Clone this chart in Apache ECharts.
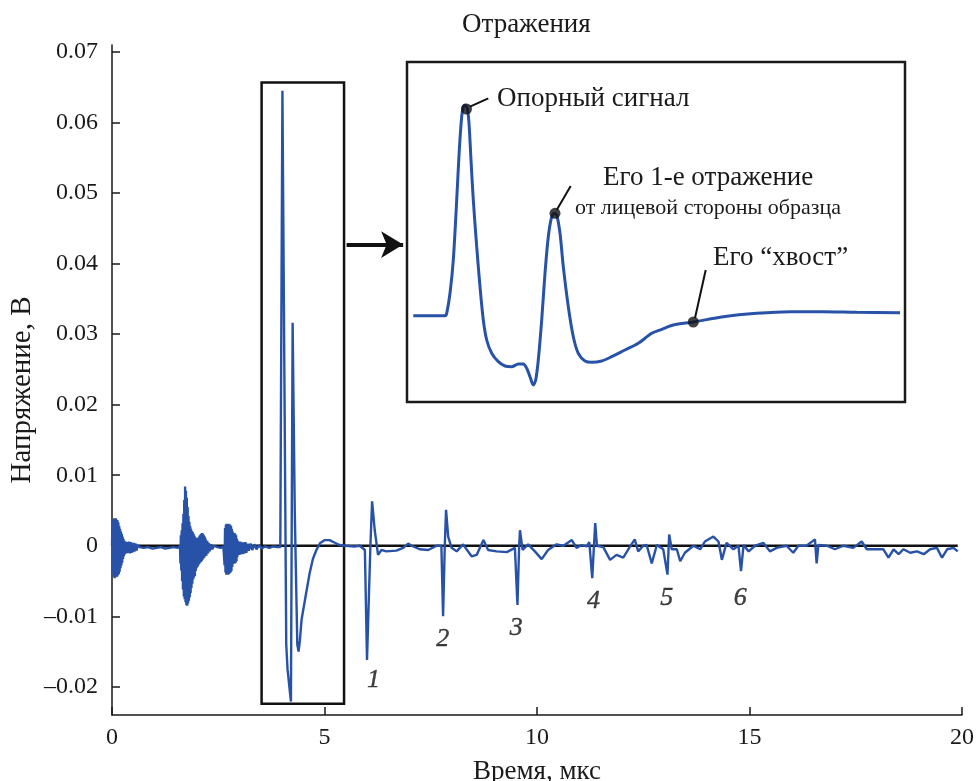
<!DOCTYPE html>
<html><head><meta charset="utf-8">
<script src="https://cdn.jsdelivr.net/npm/echarts@6/dist/echarts.min.js"></script>
<style>html,body{margin:0;padding:0;background:#fff}#c{width:977px;height:781px}</style>
</head><body><div id="c"></div>
<script>
// ---- data (time in µs, voltage in V) ----
const noiseBurst1 = [[0.00,0.0000],[0.01,0.0030],[0.02,-0.0038],[0.03,0.0036],[0.04,-0.0044],[0.05,0.0039],[0.06,-0.0046],[0.07,0.0038],[0.08,-0.0045],[0.09,0.0039],[0.10,-0.0043],[0.11,0.0037],[0.12,-0.0044],[0.13,0.0036],[0.14,-0.0042],[0.15,0.0033],[0.16,-0.0040],[0.17,0.0028],[0.18,-0.0037],[0.19,0.0024],[0.20,-0.0032],[0.21,0.0020],[0.22,-0.0028],[0.23,0.0017],[0.24,-0.0024],[0.25,0.0013],[0.26,-0.0019],[0.27,0.0010],[0.28,-0.0015],[0.29,0.0007],[0.30,-0.0012],[0.32,0.0006],[0.34,-0.0011],[0.36,0.0005],[0.38,-0.0010],[0.40,0.0006],[0.42,-0.0011],[0.44,0.0005],[0.46,-0.0010],[0.48,0.0004],[0.50,-0.0009],[0.52,0.0004],[0.54,-0.0008],[0.56,0.0003],[0.58,-0.0007],[0.60,0.0001]];
const quietGap = [[0.65,-0.0002],[0.75,-0.0003],[0.85,-0.0002],[0.95,-0.0004],[1.05,-0.0003],[1.15,-0.0002],[1.25,-0.0004],[1.35,-0.0003],[1.45,-0.0002],[1.55,-0.0003]];
const noiseBurst2 = [[1.60,0.0000],[1.61,-0.0025],[1.62,0.0015],[1.63,-0.0035],[1.64,0.0022],[1.65,-0.0050],[1.66,0.0032],[1.67,-0.0062],[1.68,0.0045],[1.69,-0.0072],[1.70,0.0065],[1.71,-0.0076],[1.72,0.0084],[1.73,-0.0080],[1.74,0.0078],[1.75,-0.0084],[1.76,0.0068],[1.77,-0.0085],[1.78,0.0055],[1.79,-0.0082],[1.80,0.0042],[1.81,-0.0078],[1.82,0.0034],[1.83,-0.0073],[1.84,0.0028],[1.85,-0.0067],[1.86,0.0024],[1.87,-0.0060],[1.88,0.0021],[1.89,-0.0054],[1.90,0.0019],[1.91,-0.0048],[1.92,0.0017],[1.93,-0.0045],[1.94,0.0014],[1.95,-0.0043],[1.96,0.0012],[1.97,-0.0036],[1.98,0.0011],[1.99,-0.0032],[2.00,0.0010],[2.01,-0.0030],[2.02,0.0011],[2.03,-0.0028],[2.04,0.0012],[2.05,-0.0026],[2.06,0.0014],[2.07,-0.0024],[2.08,0.0016],[2.09,-0.0023],[2.10,0.0017],[2.11,-0.0022],[2.12,0.0018],[2.13,-0.0020],[2.14,0.0017],[2.15,-0.0018],[2.16,0.0015],[2.17,-0.0017],[2.18,0.0013],[2.19,-0.0015],[2.20,0.0010],[2.22,-0.0014],[2.24,0.0007],[2.26,-0.0011],[2.28,0.0004],[2.30,-0.0008],[2.33,0.0002],[2.36,-0.0005],[2.40,0.0000],[2.48,-0.0002],[2.56,-0.0003],[2.62,-0.0001]];
const noiseBurst3 = [[2.64,0.0000],[2.65,-0.0028],[2.66,0.0025],[2.67,-0.0038],[2.68,0.0030],[2.69,-0.0041],[2.70,0.0031],[2.71,-0.0040],[2.72,0.0030],[2.73,-0.0041],[2.74,0.0031],[2.75,-0.0040],[2.76,0.0029],[2.77,-0.0039],[2.78,0.0030],[2.79,-0.0038],[2.80,0.0028],[2.81,-0.0036],[2.82,0.0024],[2.83,-0.0030],[2.84,0.0020],[2.85,-0.0026],[2.86,0.0018],[2.87,-0.0025],[2.88,0.0018],[2.89,-0.0025],[2.90,0.0017],[2.91,-0.0024],[2.92,0.0015],[2.93,-0.0022],[2.94,0.0010],[2.95,-0.0016],[2.96,0.0007],[2.97,-0.0013],[2.98,0.0006],[3.00,-0.0013],[3.02,0.0006],[3.04,-0.0012],[3.06,0.0005],[3.08,-0.0012],[3.10,0.0005],[3.12,-0.0011],[3.14,0.0005],[3.16,-0.0010],[3.19,0.0003],[3.22,-0.0007],[3.26,0.0003],[3.30,-0.0006],[3.35,0.0002],[3.40,-0.0005],[3.46,0.0001],[3.52,-0.0004],[3.60,-0.0001],[3.70,-0.0003],[3.80,-0.0001],[3.90,-0.0002]];
const mainPulse = [[3.96,-0.0002],[4.01,0.0645],[4.10,-0.0140],[4.13,-0.0175],[4.21,-0.0221],[4.25,0.0316],[4.30,0.0050],[4.36,-0.0140],[4.39,-0.0150],[4.42,-0.0135],[4.46,-0.0105],[4.54,-0.0077],[4.65,-0.0039],[4.73,-0.0018],[4.81,-0.0006],[4.90,0.0004],[5.01,0.0008],[5.12,0.0008],[5.22,0.0005],[5.35,0.0001],[5.50,0.0000]];
const echoTrain = [[5.70,-0.0001],[5.83,0.0000],[5.95,-0.0006],[6.00,-0.0162],[6.08,0.0000],[6.12,0.0063],[6.18,0.0023],[6.26,-0.0013],[6.34,-0.0006],[6.45,-0.0008],[6.69,-0.0007],[6.85,-0.0003],[6.97,0.0003],[7.05,0.0000],[7.24,-0.0005],[7.44,-0.0006],[7.64,0.0000],[7.75,0.0000],[7.79,-0.0100],[7.83,0.0000],[7.86,0.0051],[7.91,0.0013],[7.99,-0.0003],[8.11,-0.0008],[8.26,0.0002],[8.46,-0.0015],[8.58,-0.0013],[8.74,0.0008],[8.85,-0.0006],[9.05,-0.0008],[9.29,-0.0009],[9.48,-0.0003],[9.54,-0.0084],[9.58,0.0000],[9.60,0.0022],[9.66,-0.0006],[9.79,0.0002],[9.95,-0.0008],[10.11,-0.0019],[10.26,-0.0006],[10.46,0.0002],[10.62,0.0000],[10.82,0.0008],[10.93,-0.0003],[11.05,0.0001],[11.17,-0.0001],[11.23,0.0005],[11.30,-0.0046],[11.34,0.0000],[11.37,0.0032],[11.41,0.0000],[11.56,-0.0002],[11.72,-0.0020],[11.87,-0.0013],[12.03,-0.0017],[12.18,-0.0002],[12.30,0.0009],[12.38,-0.0008],[12.50,0.0000],[12.58,0.0001],[12.70,-0.0025],[12.82,0.0001],[12.97,-0.0005],[13.07,-0.0041],[13.11,0.0016],[13.17,-0.0005],[13.29,-0.0005],[13.37,-0.0022],[13.48,-0.0010],[13.68,0.0000],[13.84,-0.0005],[13.95,0.0006],[14.15,0.0013],[14.27,0.0006],[14.35,-0.0020],[14.46,0.0004],[14.62,-0.0005],[14.74,0.0000],[14.80,-0.0036],[14.86,0.0001],[14.98,-0.0008],[15.13,0.0000],[15.33,0.0004],[15.48,-0.0008],[15.64,-0.0003],[15.87,0.0000],[16.03,-0.0010],[16.15,0.0000],[16.34,0.0000],[16.54,0.0009],[16.58,-0.0025],[16.62,0.0001],[16.82,0.0000],[17.01,-0.0005],[17.21,0.0000],[17.44,-0.0003],[17.64,0.0006],[17.76,-0.0005],[17.92,-0.0005],[18.15,-0.0005],[18.27,-0.0017],[18.39,-0.0005],[18.51,-0.0012],[18.62,-0.0005],[18.78,-0.0010],[18.94,-0.0008],[19.10,-0.0012],[19.25,-0.0005],[19.41,-0.0003],[19.53,-0.0017],[19.65,-0.0005],[19.80,-0.0003],[19.90,-0.0008]];
const baselineTime = [0, 19.9];
const baselineVolt = [0, 0];

const xTickValues = [0, 5, 10, 15, 20];
const yTickValues = [-0.02, -0.01, 0, 0.01, 0.02, 0.03, 0.04, 0.05, 0.06, 0.07];

const echoNames = ['1', '2', '3', '4', '5', '6'];
const echoLabelTime = [6.15, 7.78, 9.51, 11.33, 13.05, 14.78];
const echoLabelVolt = [-0.0190, -0.0133, -0.0117, -0.0079, -0.0074, -0.0074];

// inset (schematic, arbitrary units)
const insetX = [6.3, 38, 39.7, 43, 46.3, 49.7, 52.3, 54.7, 56.3, 58, 60.3, 62, 64, 66.3, 69.7, 73, 76.3, 79.7, 84.7, 91.3, 98, 104.7, 111.3, 116.3, 119.7, 123, 126.3, 128.7, 131.3, 134.7, 138, 141.3, 144.7, 147.3, 149.7, 153, 156.3, 161.3, 166.3, 171.3, 178, 184.7, 194.7, 204.7, 218, 231.3, 244.7, 254.7, 266.3, 286.3, 316.3, 349.7, 383, 416.3, 449.7, 493];
const insetY = [86.3, 86.3, 88.7, 108.7, 142, 202, 252, 285.3, 295.3, 297, 293.7, 278.7, 242, 202, 155.3, 115.3, 82, 62, 48.7, 40.3, 36, 35.3, 38, 38, 33.7, 25.3, 17, 22, 42, 82, 128.7, 165.3, 185.3, 188.7, 187, 168.7, 135.3, 95.3, 65.3, 48.7, 41, 39.7, 41, 45.3, 52, 58.7, 68.7, 72.7, 77, 80, 85.3, 88.7, 90.3, 90.3, 89.7, 89.3];
const insetDotX = [59.5, 148, 286.3];
const insetDotY = [293, 188.7, 80];
const insetLabels = ['Опорный сигнал', 'Его 1-е отражение', 'от лицевой стороны образца', 'Его “хвост”'];

// ---- build ----
const signal = [].concat(noiseBurst1, quietGap, noiseBurst2, noiseBurst3, mainPulse, echoTrain);
const baseline = baselineTime.map((t, i) => [t, baselineVolt[i]]);
const echoData = echoLabelTime.map((t, i) => [t, echoLabelVolt[i]]);
const insetData = insetX.map((x, i) => [x, insetY[i]]);
const insetDots = insetDotX.map((x, i) => [x, insetDotY[i]]);

const FONT = '"Liberation Serif","DejaVu Serif",serif';
const INK = '#1a1a1a';
const BLUE = '#2852a8';

const chart = echarts.init(document.getElementById('c'), null, {renderer: 'canvas'});
const option = {
  animation: false,
  backgroundColor: '#fff',
  title: {text: 'Отражения', left: 457, top: 6,
    textStyle: {fontFamily: FONT, fontSize: 27, fontWeight: 'normal', color: INK}},
  grid: [
    {left: 112, width: 850, top: 45, height: 670, outerBoundsMode: 'none', containLabel: false},
    {left: 407, top: 62, width: 498, height: 340, outerBoundsMode: 'none', show: true, borderColor: INK, borderWidth: 2.5, backgroundColor: '#fff'}
  ],
  xAxis: [
    {gridIndex: 0, type: 'value', min: 0, max: 20, interval: 5,
      axisLine: {show: true, onZero: false, lineStyle: {color: INK, width: 1.5}},
      axisTick: {show: true, inside: true, length: 8, lineStyle: {color: INK, width: 1.5}},
      axisLabel: {fontFamily: FONT, fontSize: 24, color: INK, margin: 11},
      splitLine: {show: false},
      name: 'Время, мкс', nameLocation: 'middle', nameGap: 43,
      nameTextStyle: {fontFamily: FONT, fontSize: 27, color: INK}},
    {gridIndex: 1, type: 'value', min: 0, max: 498, show: false}
  ],
  yAxis: [
    {gridIndex: 0, type: 'value', min: -0.024, max: 0.071,
      axisLine: {show: true, onZero: false, lineStyle: {color: INK, width: 1.5}},
      axisTick: {show: true, inside: true, length: 8, customValues: yTickValues, lineStyle: {color: INK, width: 1.5}},
      axisLabel: {fontFamily: FONT, fontSize: 24, color: INK, margin: 14, customValues: yTickValues,
        formatter: v => Math.abs(v) < 1e-9 ? '0' : (v < 0 ? '–' + (-v).toFixed(2) : v.toFixed(2))},
      splitLine: {show: false}},
    {gridIndex: 1, type: 'value', min: 0, max: 340, show: false}
  ],
  series: [
    {type: 'line', name: 'baseline', xAxisIndex: 0, yAxisIndex: 0, data: baseline, symbol: 'none',
      lineStyle: {color: '#111', width: 2.5}, z: 1,
      markArea: {silent: true, itemStyle: {color: 'rgba(0,0,0,0)', borderColor: '#111', borderWidth: 2.5},
        data: [[{coord: [3.52, 0.0657]}, {coord: [5.46, -0.0224]}]]},
      markLine: {silent: true, symbol: ['none', 'arrow'], symbolSize: [20, 22], label: {show: false},
        lineStyle: {color: '#111', width: 4, type: 'solid'},
        data: [[{coord: [5.52, 0.0427]}, {coord: [6.85, 0.0427]}]]}},
    {type: 'line', name: 'signal', xAxisIndex: 0, yAxisIndex: 0, data: signal, symbol: 'none',
      lineStyle: {color: BLUE, width: 2.4}, z: 3},
    {type: 'scatter', name: 'echoes', xAxisIndex: 0, yAxisIndex: 0, data: echoData, symbolSize: 1,
      itemStyle: {color: 'rgba(0,0,0,0)'},
      label: {show: true, position: 'inside', formatter: p => echoNames[p.dataIndex],
        fontFamily: FONT, fontStyle: 'italic', fontSize: 26, color: '#111',
        textBorderColor: '#111', textBorderWidth: 0.4}},
    {type: 'line', name: 'inset', xAxisIndex: 1, yAxisIndex: 1, data: insetData, symbol: 'none',
      smooth: 0.3, lineStyle: {color: BLUE, width: 3}, z: 6},
    {type: 'scatter', name: 'insetDots', xAxisIndex: 1, yAxisIndex: 1, data: insetDots, symbolSize: 11,
      itemStyle: {color: '#111'}, z: 7,
      markLine: {silent: true, symbol: ['none', 'none'], label: {show: false},
        lineStyle: {color: '#111', width: 2, type: 'solid'},
        data: [
          [{coord: [63, 295.3]}, {coord: [81.3, 303.7]}],
          [{coord: [149.7, 192]}, {coord: [163.7, 216]}],
          [{coord: [288, 84]}, {coord: [298.7, 132]}]
        ]}}
  ],
  graphic: [
    {type: 'text', x: 22, y: 390, rotation: Math.PI / 2, z: 100,
      style: {text: 'Напряжение, В', fontFamily: FONT, fontSize: 29, fill: INK, align: 'center', verticalAlign: 'middle'}},
    {type: 'text', x: 497, y: 99, z: 100,
      style: {text: insetLabels[0], fontFamily: FONT, fontSize: 27, fill: INK, align: 'left', verticalAlign: 'middle'}},
    {type: 'text', x: 603, y: 178, z: 100,
      style: {text: insetLabels[1], fontFamily: FONT, fontSize: 27, fill: INK, align: 'left', verticalAlign: 'middle'}},
    {type: 'text', x: 575, y: 208, z: 100,
      style: {text: insetLabels[2], fontFamily: FONT, fontSize: 22, fill: INK, align: 'left', verticalAlign: 'middle'}},
    {type: 'text', x: 713, y: 258, z: 100,
      style: {text: insetLabels[3], fontFamily: FONT, fontSize: 27, fill: INK, align: 'left', verticalAlign: 'middle'}}
  ]
};
chart.setOption(option);
</script>
</body></html>
